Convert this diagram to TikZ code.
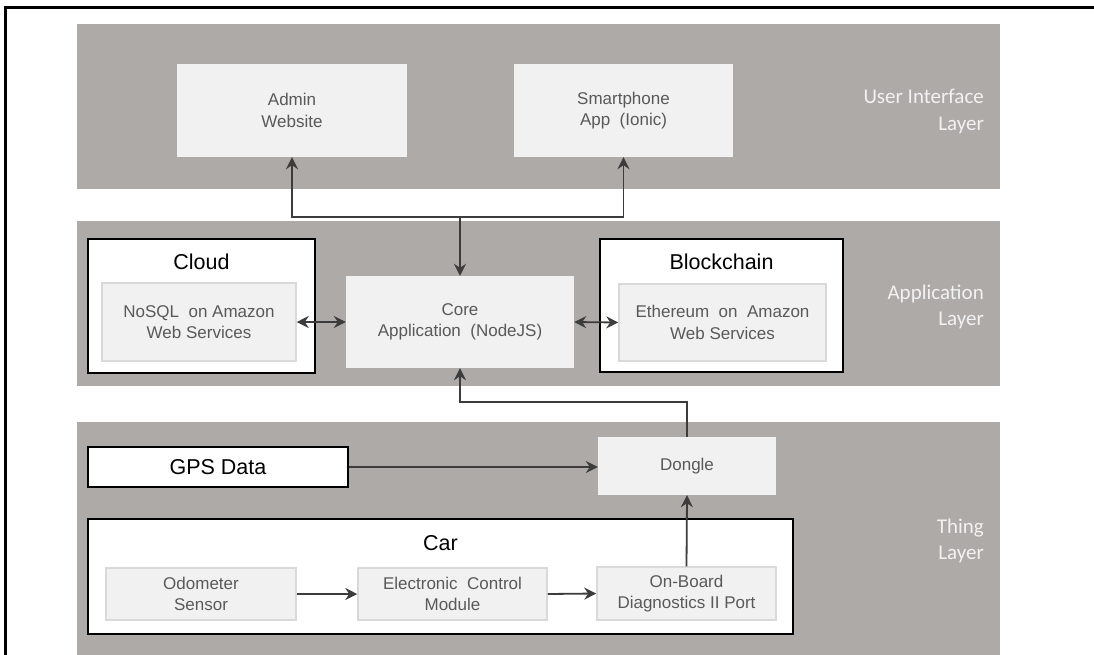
\documentclass[tikz,border=0pt]{standalone}
\usepackage{fontspec}
\setmainfont{Liberation Sans}
\newfontfamily\layerfont{Carlito}
\usetikzlibrary{arrows.meta}
\definecolor{bandgray}{RGB}{174,170,168}
\definecolor{boxfill}{RGB}{241,241,241}
\definecolor{boxline}{RGB}{217,217,217}
\definecolor{txtgray}{RGB}{89,89,89}
\definecolor{arrgray}{RGB}{60,60,60}
\definecolor{layertxt}{RGB}{242,242,242}
\tikzset{
  box/.style={fill=boxfill, draw=none, text=txtgray, align=center,
    font=\fontsize{17}{21.5}\selectfont, inner sep=0pt},
  inbox/.style={box, draw=boxline, line width=1.5pt},
  container/.style={draw=black, fill=white, line width=2.2pt, inner sep=0pt},
  titletext/.style={font=\fontsize{21.5}{25}\selectfont, text=black, inner sep=0pt},
  layerlbl/.style={font=\layerfont\fontsize{21}{26.5}\selectfont, text=layertxt,
    align=right, anchor=east, inner sep=0pt},
  arr/.style={draw=arrgray, line width=1.8pt, -{Stealth[length=12pt,width=12pt,inset=4pt]}},
  darr/.style={draw=arrgray, line width=1.8pt, {Stealth[length=12pt,width=12pt,inset=4pt]}-{Stealth[length=12pt,width=12pt,inset=4pt]}},
}
\begin{document}
\begin{tikzpicture}[x=1pt,y=-1pt]
\useasboundingbox (0,0) rectangle (1094,654);
% bands
\fill[bandgray] (77,24) rectangle (1000,189);
\fill[bandgray] (77,221) rectangle (1000,386);
\fill[bandgray] (77,422) rectangle (1000,660);
% frame
\draw[line width=3pt] (5,660) -- (5,7) -- (1100,7);
% layer labels
\node[layerlbl] (uil) at (984,111.5) {User Interface\\Layer};
\node[layerlbl] (apl) at (984,307) {Application\\Layer};
\node[layerlbl] (thl) at (984,541) {Thing\\Layer};
% UI layer
\node[box, minimum width=230pt, minimum height=93pt] (admin) at (292,110.5) {Admin\\Website};
\node[box, minimum width=219pt, minimum height=93pt] (smart) at (623.5,110.5) {Smartphone\\App\ \ (Ionic)};
% application layer
\node[container, minimum width=227pt, minimum height=134pt] (cloud) at (201.5,306) {};
\node[titletext] (cloudt) at (201.5,262) {Cloud};
\node[inbox, minimum width=194pt, minimum height=78pt] (nosql) at (199,322) {NoSQL\ \ on Amazon\\Web Services};
\node[box, minimum width=228pt, minimum height=92pt] (core) at (460,322) {Core\\Application\ \ (NodeJS)};
\node[container, minimum width=243pt, minimum height=133pt] (block) at (721.5,305.5) {};
\node[titletext] (blockt) at (721.5,262) {Blockchain};
\node[inbox, minimum width=207pt, minimum height=77pt] (eth) at (722.5,322.5) {Ethereum\ \ on\ \ Amazon\\Web Services};
% thing layer
\node[container, minimum width=260pt, minimum height=40pt, font=\fontsize{21.5}{25}\selectfont] (gps) at (218,467) {GPS Data};
\node[box, minimum width=178pt, minimum height=58pt] (dongle) at (687,466) {Dongle};
\node[container, minimum width=705pt, minimum height=115pt] (car) at (440.5,576.5) {};
\node[titletext] (cart) at (440.5,543) {Car};
\node[inbox, minimum width=190pt, minimum height=52pt] (odo) at (201,594) {Odometer\\Sensor};
\node[inbox, minimum width=189pt, minimum height=52pt] (ecm) at (452.5,594) {Electronic\ \ Control\\Module};
\node[inbox, minimum width=179pt, minimum height=53pt] (obd) at (686.5,593.5) {On-Board\\Diagnostics II Port};
% connectors
\coordinate (jn) at (460,217);
\draw[arr] (jn) -- (core.north);
\draw[arr] (jn) -| (admin.south);
\draw[arr] (jn) -| (smart.south);
\draw[darr] (nosql.east) -- (core.west);
\draw[darr] (core.east) -- (eth.west);
\coordinate (jd) at (687,402);
\draw[arr] (dongle.north) -- (jd) -| (core.south);
\draw[arr] (gps.east) -- (gps.east -| dongle.west);
\draw[arr] (odo.east) -- (ecm.west);
\draw[arr] (ecm.east) -- (obd.west);
\draw[arr] (obd.north) -- (dongle.south);
\end{tikzpicture}
\end{document}
